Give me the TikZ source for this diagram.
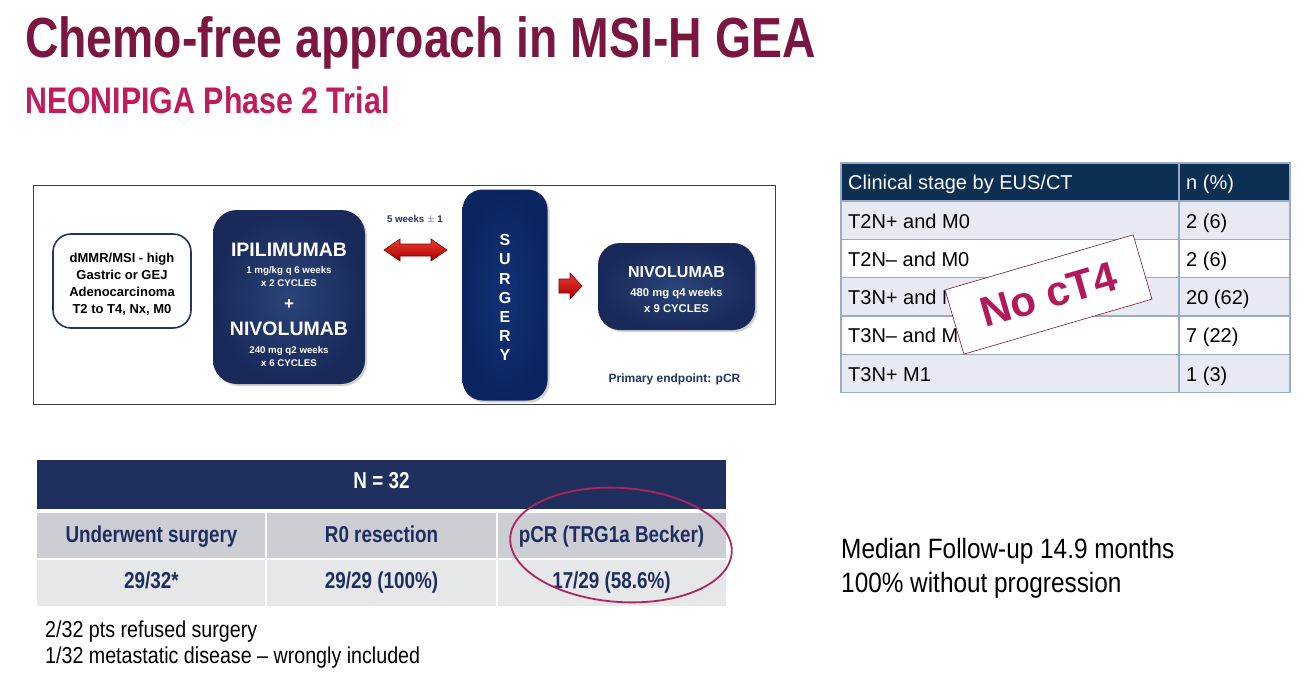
\documentclass[tikz,border=0pt]{standalone}
\usepackage{fontspec}
\setmainfont{Liberation Sans}
\newfontfamily\narrowfont[FakeStretch=0.82]{Liberation Sans}
\newfontfamily\semifont[FakeStretch=0.87]{Liberation Sans}
\newfontfamily\footfont[FakeStretch=0.855]{Liberation Sans}
\usetikzlibrary{shadows}
\definecolor{titlered}{HTML}{7B1640}
\definecolor{subred}{HTML}{C01B5C}
\definecolor{navy}{HTML}{1F3566}
\definecolor{navyin}{HTML}{2B4478}
\definecolor{navyout}{HTML}{18295A}
\definecolor{surgin}{HTML}{123276}
\definecolor{surgout}{HTML}{0A2460}
\definecolor{thead}{HTML}{0D2F52}
\definecolor{trow}{HTML}{E8EAF3}
\definecolor{tline}{HTML}{9AAACB}
\definecolor{bhead}{HTML}{1F305E}
\definecolor{brow}{HTML}{CDCED3}
\definecolor{brow2}{HTML}{E6E7E9}
\definecolor{btext}{HTML}{1F2E60}
\definecolor{stamp}{HTML}{B3195A}
\definecolor{ellc}{HTML}{AE2460}
\definecolor{arrowtop}{HTML}{F03A30}
\definecolor{arrowbot}{HTML}{A30000}
\definecolor{arrowline}{HTML}{7A0000}
\tikzset{
  txt/.style={inner sep=0pt, anchor=base},
  txtw/.style={inner sep=0pt, anchor=base west},
  navybox/.style={draw=none, rounded corners=24pt, inner color=navyin, outer color=navyout,
     drop shadow={opacity=0.35, shadow xshift=2pt, shadow yshift=-2pt}, inner sep=0pt},
  surgbox/.style={draw=none, rounded corners=20pt, inner color=surgin, outer color=surgout,
     drop shadow={opacity=0.35, shadow xshift=2pt, shadow yshift=-2pt}, inner sep=0pt},
  whitebig/.style={txt, text=white, font=\bfseries\fontsize{19.5}{22}\selectfont},
  whitesmall/.style={txt, text=white, font=\bfseries\fontsize{9.7}{11}\selectfont},
  surgletter/.style={inner sep=0pt, anchor=center, text height=11.5pt, text depth=0pt, text=white, font=\bfseries\fontsize{16}{17}\selectfont},
  redarrow/.style={top color=arrowtop, bottom color=arrowbot, draw=arrowline, line width=0.6pt},
  rtab/.style={txtw, text=black, font=\fontsize{20}{24}\selectfont},
  btab/.style={txt, text=btext, font=\narrowfont\bfseries\fontsize{23}{26}\selectfont},
  lefttxt/.style={txt, text=black, font=\bfseries\fontsize{13}{15}\selectfont},
}
\begin{document}
\begin{tikzpicture}[x=1pt,y=-1pt]
\useasboundingbox[fill=white] (0,0) rectangle (1303,677);

% titles
\node[txtw, text=titlered, font=\narrowfont\bfseries\fontsize{56.5}{60}\selectfont] (title) at (25,57) {Chemo-free approach in MSI-H GEA};
\node[txtw, text=subred, font=\narrowfont\bfseries\fontsize{37}{40}\selectfont] (subtitle) at (25,113) {NEONIPIGA Phase 2 Trial};

% schema frame
\draw[draw=black!75, line width=0.8pt] (33,185) rectangle (775,404);

% left box
\node[draw=navy, line width=1.6pt, fill=white, rounded corners=18pt, minimum width=138pt, minimum height=94pt, inner sep=0pt] (elig) at (122,281) {};
\node[lefttxt] (l1) at (122,262) {dMMR/MSI - high};
\node[lefttxt] (l2) at (122,279) {Gastric or GEJ};
\node[lefttxt] (l3) at (122,296) {Adenocarcinoma};
\node[lefttxt] (l4) at (122,313) {T2 to T4, Nx, M0};

% ipilimumab + nivolumab box
\node[navybox, minimum width=152pt, minimum height=174pt] (ipi) at (289,297) {};
\node[whitebig] (ipit) at (289,256) {IPILIMUMAB};
\node[whitesmall] (ipid1) at (289,273.5) {1 mg/kg q 6 weeks};
\node[whitesmall] (ipid2) at (289,286) {x 2 CYCLES};
\node[txt, text=white, font=\bfseries\fontsize{17}{19}\selectfont] (plus) at (289,309) {+};
\node[whitebig] (nivt) at (289,335) {NIVOLUMAB};
\node[whitesmall] (nivd1) at (289,353.5) {240 mg q2 weeks};
\node[whitesmall] (nivd2) at (289,366.5) {x 6 CYCLES};

% interval label and double arrow
\node[txt, text=navy, font=\bfseries\fontsize{9.7}{11}\selectfont] (interval) at (415,222) {5 weeks $\pm$ 1};
\coordinate (da) at (384,250);
\coordinate (db) at (447,250);
\path[redarrow] (da) -- ++(16,-11) -- ++(0,5) -- ++(31,0) -- ++(0,-5) -- (db) -- ++(-16,11) -- ++(0,-5) -- ++(-31,0) -- ++(0,5) -- cycle;

% surgery box
\node[surgbox, minimum width=85pt, minimum height=211pt] (surg) at (505,295) {};
\foreach \l [count=\i from 0] in {S,U,R,G,E,R,Y}
  \node[surgletter] (s\i) at (505,{240+19.2*\i}) {\l};

% single arrow
\coordinate (sa) at (559,286);
\path[redarrow] (sa) ++(0,-7) -- ++(11,0) -- ++(0,-6) -- ++(12,13) -- ++(-12,13) -- ++(0,-6) -- ++(-11,0) -- cycle;

% nivolumab maintenance
\node[navybox, rounded corners=22pt, minimum width=157pt, minimum height=87pt] (niv) at (676.5,286.5) {};
\node[txt, text=white, font=\bfseries\fontsize{16}{18}\selectfont] (nivm) at (676.5,277) {NIVOLUMAB};
\node[txt, text=white, font=\bfseries\fontsize{11.3}{13}\selectfont] (nivm1) at (676.5,296) {480 mg q4 weeks};
\node[txt, text=white, font=\bfseries\fontsize{11.3}{13}\selectfont] (nivm2) at (676.5,312) {x 9 CYCLES};

\node[txt, text=navy, font=\bfseries\fontsize{12}{14}\selectfont] (endpoint) at (674.5,382) {Primary endpoint: pCR};

% clinical stage table
\fill[thead] (841,163) rectangle (1290,201);
\fill[trow] (841,201) rectangle (1290,239.3);
\fill[white] (841,239.3) rectangle (1290,277.6);
\fill[trow] (841,277.6) rectangle (1290,315.9);
\fill[white] (841,315.9) rectangle (1290,354.2);
\fill[trow] (841,354.2) rectangle (1290,392.5);
\draw[tline, line width=1.3pt] (841,163) rectangle (1290,392.5);
\foreach \yy in {201,239.3,277.6,315.9,354.2}
  \draw[tline, line width=1.3pt] (841,\yy) -- (1290,\yy);
\draw[tline, line width=1.3pt] (1179,163) -- (1179,392.5);
\node[rtab, text=white] (h1) at (848,189.5) {Clinical stage by EUS/CT};
\node[rtab, text=white] (h2) at (1186,189.5) {n (\%)};
\node[rtab] (r1a) at (848,228) {T2N+ and M0};
\node[rtab] (r1b) at (1186,228) {2 (6)};
\node[rtab] (r2a) at (848,266.3) {T2N\textendash{} and M0};
\node[rtab] (r2b) at (1186,266.3) {2 (6)};
\node[rtab] (r3a) at (848,304.6) {T3N+ and M0};
\node[rtab] (r3b) at (1186,304.6) {20 (62)};
\node[rtab] (r4a) at (848,342.9) {T3N\textendash{} and M0};
\node[rtab] (r4b) at (1186,342.9) {7 (22)};
\node[rtab] (r5a) at (848,381.2) {T3N+ M1};
\node[rtab] (r5b) at (1186,381.2) {1 (3)};

% stamp
\node[draw=titlered, line width=0.6pt, fill=white, rotate=16.3, minimum width=196pt, minimum height=67pt, inner sep=0pt,
      text=stamp, font=\bfseries\fontsize{42}{46}\selectfont] (nocT4) at (1048.5,294.5) {No cT4};

% outcome table
\fill[bhead] (37,460) rectangle (726,509);
\fill[brow] (37,513) rectangle (726,559);
\fill[brow2] (37,559) rectangle (726,606);
\draw[white, line width=1.5pt] (37,559) -- (726,559);
\draw[white, line width=1.5pt] (266,513) -- (266,606);
\draw[white, line width=1.5pt] (497,513) -- (497,606);
\node[btab, text=white] (n32) at (381.5,488) {N = 32};
\node[btab] (c1) at (151.5,542) {Underwent surgery};
\node[btab] (c2) at (381.5,542) {R0 resection};
\node[btab] (c3) at (611.5,542) {pCR (TRG1a Becker)};
\node[btab] (v1) at (151.5,588) {29/32*};
\node[btab] (v2) at (381.5,588) {29/29 (100\%)};
\node[btab] (v3) at (611.5,588) {17/29 (58.6\%)};

\draw[ellc, line width=1.8pt, rotate around={-4:(621,545)}] (621,545) ellipse [x radius=111, y radius=57];

% footnotes
\node[txtw, font=\footfont\fontsize{23}{26}\selectfont] (f1) at (45,637) {2/32 pts refused surgery};
\node[txtw, font=\footfont\fontsize{23}{26}\selectfont] (f2) at (45,663) {1/32 metastatic disease \textendash{} wrongly included};

% follow-up
\node[txtw, font=\semifont\fontsize{28}{32}\selectfont] (m1) at (841,558) {Median Follow-up 14.9 months};
\node[txtw, font=\semifont\fontsize{28}{32}\selectfont] (m2) at (841,592) {100\% without progression};
\end{tikzpicture}
\end{document}
